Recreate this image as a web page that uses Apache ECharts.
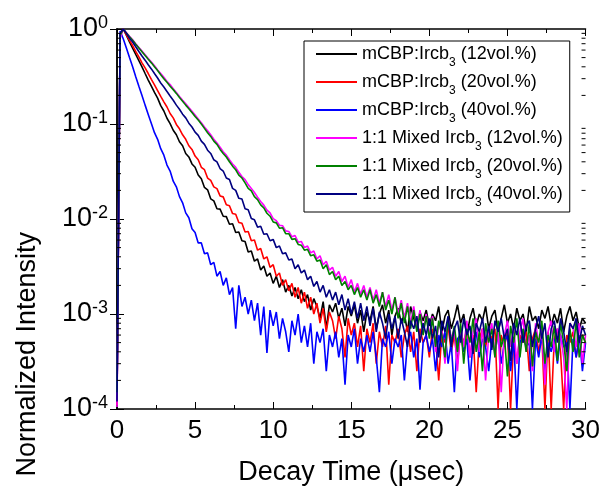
<!DOCTYPE html>
<html><head><meta charset="utf-8">
<script src="https://cdn.jsdelivr.net/npm/echarts@6/dist/echarts.min.js"></script>
<style>html,body{margin:0;padding:0;background:#fff}#c{width:603px;height:491px}</style>
</head><body><div id="c"></div><script>
// Decay time (µs)
const time = [
0,0.2,0.4,0.6,0.8,1,1.2,1.4,1.6,1.8,
2,2.2,2.4,2.6,2.8,3,3.2,3.4,3.6,3.8,
4,4.2,4.4,4.6,4.8,5,5.2,5.4,5.6,5.8,
6,6.2,6.4,6.6,6.8,7,7.2,7.4,7.6,7.8,
8,8.2,8.4,8.6,8.8,9,9.2,9.4,9.6,9.8,
10,10.2,10.4,10.6,10.8,11,11.2,11.4,11.6,11.8,
12,12.2,12.4,12.6,12.8,13,13.2,13.4,13.6,13.8,
14,14.2,14.4,14.6,14.8,15,15.2,15.4,15.6,15.8,
16,16.2,16.4,16.6,16.8,17,17.2,17.4,17.6,17.8,
18,18.2,18.4,18.6,18.8,19,19.2,19.4,19.6,19.8,
20,20.2,20.4,20.6,20.8,21,21.2,21.4,21.6,21.8,
22,22.2,22.4,22.6,22.8,23,23.2,23.4,23.6,23.8,
24,24.2,24.4,24.6,24.8,25,25.2,25.4,25.6,25.8,
26,26.2,26.4,26.6,26.8,27,27.2,27.4,27.6,27.8,
28,28.2,28.4,28.6,28.8,29,29.2,29.4,29.6,29.8,
30];

const mcbp12 = [
1.3e-4,0.85,1.0,0.86,0.73,0.63,0.54,0.465,0.40,0.34,
0.29,0.25,0.215,0.187,0.156,0.137,0.115,0.101,0.086,0.077,
0.065,0.059,0.049,0.045,0.038,0.035,0.029,0.0265,0.0215,0.0203,
0.0163,0.0155,0.0128,0.0127,0.0107,0.0106,8.8e-3,8.9e-3,7.2e-3,7.3e-3,
5.9e-3,5.8e-3,4.5e-3,4.6e-3,3.6e-3,3.8e-3,2.9e-3,3.2e-3,2.5e-3,2.7e-3,
2.1e-3,2.5e-3,1.9e-3,2.3e-3,1.7e-3,2.0e-3,1.55e-3,1.9e-3,1.45e-3,1.8e-3,
1.35e-3,1.6e-3,1.1e-3,1.45e-3,1.2e-3,9e-4,1.35e-3,7e-4,1.25e-3,1.05e-3,
1.3e-3,9e-4,1.15e-3,7.5e-4,1.2e-3,9.5e-4,1.25e-3,8e-4,1.1e-3,6.5e-4,
1.05e-3,8.5e-4,1.2e-3,7e-4,1.0e-3,1.25e-3,8e-4,1.1e-3,6e-4,9.5e-4,
1.15e-3,8e-4,1.0e-3,6.5e-4,1.2e-3,9e-4,7e-4,1.05e-3,8.5e-4,1.1e-3,
7.5e-4,1.0e-3,8.5e-4,1.2e-3,6.5e-4,9.5e-4,1.1e-3,7e-4,9e-4,1.25e-3,
8e-4,1.0e-3,6e-4,9e-4,1.15e-3,7.5e-4,1.0e-3,8.5e-4,1.2e-3,7e-4,
9.5e-4,1.1e-3,6.5e-4,9e-4,1.25e-3,8e-4,1.0e-3,7e-4,1.15e-3,8.5e-4,
1.0e-3,6.5e-4,1.2e-3,8.5e-4,9.5e-4,7e-4,1.1e-3,9e-4,1.2e-3,7.5e-4,
1.0e-3,8e-4,1.15e-3,6.5e-4,9.5e-4,1.2e-3,8.5e-4,1.05e-3,7e-4,9e-4,
8e-4];

const mcbp20 = [
1.1e-4,0.88,1.0,0.87,0.76,0.67,0.58,0.51,0.44,0.39,
0.34,0.295,0.258,0.224,0.195,0.171,0.151,0.129,0.116,0.099,
0.089,0.077,0.069,0.059,0.054,0.046,0.042,0.035,0.033,0.027,
0.0255,0.0218,0.0209,0.0175,0.0171,0.0141,0.0138,0.0114,0.0112,9.2e-3,
9.0e-3,7.3e-3,7.4e-3,5.9e-3,6.0e-3,4.7e-3,4.9e-3,3.8e-3,4.0e-3,3.1e-3,
3.3e-3,2.5e-3,2.7e-3,2.0e-3,2.3e-3,1.75e-3,2.1e-3,1.5e-3,1.9e-3,1.3e-3,
1.7e-3,1.15e-3,1.5e-3,1.0e-3,1.3e-3,8e-4,1.15e-3,6.5e-4,1.05e-3,8.5e-4,
5.5e-4,9.5e-4,7e-4,3.5e-4,9e-4,6e-4,8e-4,4.5e-4,7.5e-4,2.5e-4,
7e-4,5e-4,8e-4,3e-4,6.5e-4,4.5e-4,7.5e-4,1.8e-4,6e-4,5e-4,
7e-4,3.5e-4,6e-4,7.5e-4,4e-4,6.5e-4,2.5e-4,7e-4,5e-4,6e-4,
3.5e-4,7e-4,5.5e-4,2e-4,6.5e-4,5e-4,7.5e-4,4e-4,6e-4,3e-4,
6.5e-4,5e-4,7e-4,3.5e-4,6e-4,1.5e-4,5.5e-4,7e-4,4.5e-4,6.5e-4,
5.5e-4,7e-4,1e-4,6e-4,4.5e-4,6.5e-4,1e-4,5.5e-4,3e-4,6e-4,
5e-4,6.5e-4,2.5e-4,5.5e-4,7e-4,4e-4,6e-4,1e-4,6.5e-4,1e-4,
5.5e-4,7e-4,4e-4,1e-4,6e-4,5e-4,6.5e-4,3.5e-4,5.5e-4,6e-4,
5e-4];

const mcbp40 = [
1.2e-4,0.95,0.79,0.63,0.50,0.40,0.315,0.25,0.20,0.158,
0.126,0.101,0.081,0.069,0.055,0.047,0.037,0.032,0.025,0.0218,
0.0172,0.0148,0.0116,0.0103,7.9e-3,7.2e-3,5.6e-3,5.6e-3,4.3e-3,4.4e-3,
3.3e-3,3.5e-3,2.5e-3,2.8e-3,2.0e-3,2.4e-3,1.6e-3,1.9e-3,7e-4,2.0e-3,
1.2e-3,1.5e-3,1.0e-3,1.4e-3,8.5e-4,1.3e-3,6e-4,1.2e-3,3.9e-4,1.1e-3,
7.5e-4,1.05e-3,5.5e-4,9e-4,6.5e-4,4e-4,8.5e-4,6e-4,1.0e-3,5e-4,
7.5e-4,4.5e-4,8e-4,3e-4,6.5e-4,5e-4,7e-4,2.5e-4,6e-4,4.5e-4,
6.5e-4,3.5e-4,5.5e-4,1.8e-4,6e-4,4.5e-4,7e-4,3e-4,5.5e-4,4e-4,
6e-4,4e-4,6.5e-4,3.5e-4,1.5e-4,5.5e-4,4.5e-4,6.5e-4,3e-4,5.5e-4,
4.5e-4,6e-4,2e-4,5e-4,6.5e-4,3.5e-4,5.5e-4,1.6e-4,5e-4,6e-4,
4e-4,5.5e-4,2.5e-4,6e-4,4.5e-4,6.5e-4,3e-4,5e-4,1.5e-4,5.5e-4,
6e-4,4e-4,5.5e-4,2e-4,5e-4,6.5e-4,3.5e-4,5.5e-4,4.5e-4,2.5e-4,
5.5e-4,4e-4,6e-4,3e-4,5e-4,6e-4,2.5e-4,5.5e-4,1e-4,5e-4,
6e-4,4.5e-4,5e-4,1e-4,5.5e-4,3.5e-4,6e-4,2.5e-4,5e-4,4e-4,
5.5e-4,3e-4,6e-4,4.5e-4,5e-4,1e-4,5.5e-4,3.5e-4,6e-4,2.5e-4,
5e-4];

const mixed12 = [
1.05e-4,0.8,1.0,0.92,0.84,0.77,0.70,0.64,0.585,0.535,
0.49,0.45,0.41,0.37,0.34,0.31,0.28,0.26,0.235,0.215,
0.195,0.178,0.163,0.149,0.136,0.124,0.113,0.103,0.093,0.085,
0.077,0.069,0.063,0.057,0.051,0.047,0.042,0.038,0.035,0.031,
0.028,0.026,0.023,0.021,0.019,0.017,0.0153,0.014,0.0124,0.0116,
0.0101,9.6e-3,8.6e-3,8.5e-3,7.5e-3,7.4e-3,6.5e-3,6.7e-3,5.7e-3,5.8e-3,
5.0e-3,5.2e-3,4.4e-3,4.6e-3,3.8e-3,4.1e-3,3.3e-3,3.6e-3,2.9e-3,3.1e-3,
2.5e-3,2.8e-3,2.2e-3,2.5e-3,1.9e-3,2.3e-3,1.7e-3,2.1e-3,1.6e-3,2.0e-3,
1.5e-3,1.9e-3,1.4e-3,1.8e-3,1.3e-3,1.7e-3,1.2e-3,1.6e-3,1.1e-3,1.5e-3,
1.0e-3,1.4e-3,9e-4,1.3e-3,8e-4,1.2e-3,7e-4,1.1e-3,6.5e-4,1.0e-3,
6e-4,9.5e-4,4e-4,8e-4,6.5e-4,3e-4,9e-4,5.5e-4,7e-4,2.5e-4,
7.5e-4,4.5e-4,8.5e-4,3.5e-4,6.5e-4,9e-4,4e-4,7e-4,2e-4,6e-4,
8e-4,3.5e-4,7e-4,1.5e-4,6e-4,8.5e-4,4.5e-4,7.5e-4,3e-4,6.5e-4,
9e-4,4e-4,6e-4,2.5e-4,8e-4,5e-4,7e-4,1.8e-4,6.5e-4,8.5e-4,
4e-4,7e-4,6e-4,3.5e-4,1e-4,8e-4,7e-4,4.5e-4,8e-4,3e-4,
6e-4];

const mixed20 = [
1.5e-4,0.85,1.0,0.91,0.83,0.76,0.69,0.63,0.575,0.525,
0.48,0.44,0.40,0.365,0.33,0.30,0.275,0.25,0.23,0.21,
0.19,0.174,0.158,0.145,0.132,0.12,0.11,0.10,0.090,0.081,
0.074,0.066,0.061,0.054,0.049,0.045,0.040,0.036,0.033,0.029,
0.027,0.024,0.021,0.0198,0.0172,0.016,0.0141,0.0131,0.0115,0.0107,
9.3e-3,9.1e-3,8.0e-3,8.1e-3,7.0e-3,7.0e-3,6.1e-3,6.2e-3,5.4e-3,5.3e-3,
4.7e-3,4.8e-3,4.1e-3,4.2e-3,3.6e-3,3.7e-3,3.0e-3,3.3e-3,2.6e-3,2.8e-3,
2.3e-3,2.5e-3,2.0e-3,2.2e-3,1.8e-3,2.0e-3,1.6e-3,1.9e-3,1.5e-3,1.8e-3,
1.4e-3,1.8e-3,1.3e-3,1.6e-3,1.2e-3,1.7e-3,1.1e-3,1.4e-3,1.0e-3,1.5e-3,
9e-4,1.3e-3,8e-4,1.2e-3,7e-4,1.1e-3,6.5e-4,1.0e-3,6e-4,9.5e-4,
5.5e-4,9e-4,4.5e-4,8.5e-4,6e-4,3.5e-4,9e-4,5e-4,7.5e-4,4e-4,
8e-4,3e-4,7e-4,5e-4,9e-4,4e-4,6.5e-4,2.5e-4,8e-4,5e-4,
7e-4,3.5e-4,8.5e-4,4.5e-4,6e-4,2.2e-4,7.5e-4,5e-4,9e-4,3.5e-4,
7e-4,4e-4,8e-4,2.8e-4,6.5e-4,5e-4,8.5e-4,3e-4,6e-4,4.5e-4,
7.5e-4,3.2e-4,8e-4,5e-4,2.5e-4,7e-4,4e-4,8.5e-4,3.5e-4,6e-4,
5e-4];

const mixed40 = [
1.2e-4,0.9,1.0,0.90,0.80,0.73,0.65,0.58,0.52,0.47,
0.42,0.38,0.34,0.305,0.27,0.245,0.22,0.197,0.178,0.158,
0.143,0.127,0.116,0.102,0.093,0.082,0.076,0.066,0.061,0.053,
0.049,0.042,0.040,0.034,0.032,0.027,0.026,0.021,0.020,0.0165,
0.0162,0.0128,0.0125,0.0101,0.0098,8.2e-3,8.4e-3,6.9e-3,7.0e-3,5.9e-3,
6.1e-3,5.0e-3,5.2e-3,4.3e-3,4.4e-3,3.7e-3,3.8e-3,3.0e-3,3.3e-3,2.7e-3,
2.9e-3,2.3e-3,2.5e-3,1.95e-3,2.2e-3,1.7e-3,2.0e-3,1.5e-3,1.8e-3,1.4e-3,
1.7e-3,1.25e-3,1.6e-3,1.1e-3,1.45e-3,1.0e-3,1.35e-3,9e-4,1.3e-3,8.5e-4,
1.2e-3,7.5e-4,1.15e-3,6.5e-4,1.05e-3,8e-4,5.5e-4,1.0e-3,7e-4,9.5e-4,
5.5e-4,9e-4,6.5e-4,4.5e-4,8.5e-4,7e-4,9.5e-4,5e-4,8e-4,6e-4,
9e-4,5.5e-4,7.5e-4,3.5e-4,8.5e-4,6.5e-4,9.5e-4,4.5e-4,7e-4,8.5e-4,
5e-4,9e-4,6e-4,7.5e-4,3.8e-4,8e-4,6.5e-4,9e-4,5e-4,7.5e-4,
4.2e-4,8.5e-4,6.5e-4,9e-4,5.5e-4,7e-4,3.2e-4,8e-4,6e-4,9e-4,
5e-4,7.5e-4,8.5e-4,4.5e-4,7e-4,9.5e-4,5.5e-4,8e-4,3.5e-4,7e-4,
8.5e-4,5e-4,9e-4,6.5e-4,4e-4,8e-4,7e-4,9e-4,5e-4,7.5e-4,
6e-4];

const seriesPre = ['mCBP:Ircb','mCBP:Ircb','mCBP:Ircb','1:1 Mixed Ircb','1:1 Mixed Ircb','1:1 Mixed Ircb'];
const seriesSub = ['3','3','3','3','3','3'];
const seriesPost = [' (12vol.%)',' (20vol.%)',' (40vol.%)',' (12vol.%)',' (20vol.%)',' (40vol.%)'];
const seriesColors = ['#000000','#ff0000','#0000ff','#ff00ff','#008000','#000080'];
const seriesValues = [mcbp12, mcbp20, mcbp40, mixed12, mixed20, mixed40];
const xTicks = [0,5,10,15,20,25,30];
const yExponents = ['-4','-3','-2','-1','0'];
const yMinorTicks = [2e-4,3e-4,4e-4,5e-4,6e-4,7e-4,8e-4,9e-4,
  2e-3,3e-3,4e-3,5e-3,6e-3,7e-3,8e-3,9e-3,
  2e-2,3e-2,4e-2,5e-2,6e-2,7e-2,8e-2,9e-2,
  0.2,0.3,0.4,0.5,0.6,0.7,0.8,0.9];

const FONT = 'Liberation Sans, Arial, sans-serif';
const names = seriesPre.map((p,i)=>p+seriesSub[i]+seriesPost[i]);

const lineSeries = seriesValues.map((vals,i)=>({
  name: names[i], type:'line', xAxisIndex:0, yAxisIndex:0,
  data: time.map((t,j)=>[t, vals[j]]),
  showSymbol:false, symbol:'none', animation:false,
  lineStyle:{color:seriesColors[i], width:1.6},
  itemStyle:{color:seriesColors[i]}, clip:true
}));

const minorSeries = {
  type:'custom', xAxisIndex:0, yAxisIndex:0, silent:true, animation:false, clip:false, z:10,
  data: yMinorTicks.map(v=>[0,v]),
  renderItem: function(params, api){
    const y = api.coord([0, api.value(1)])[1];
    const r = params.coordSys;
    const st = {stroke:'#000', lineWidth:1};
    return {type:'group', children:[
      {type:'line', shape:{x1:r.x, y1:y, x2:r.x+4, y2:y}, style:st},
      {type:'line', shape:{x1:r.x+r.width-4, y1:y, x2:r.x+r.width, y2:y}, style:st}
    ]};
  }
};

const axisCommonX = {
  type:'value', min:0, max:30, interval:5,
  axisLine:{show:true, lineStyle:{color:'#000', width:1.5}},
  axisTick:{show:true, inside:true, length:7, lineStyle:{color:'#000', width:1}},
  minorTick:{show:true, splitNumber:2, length:4, lineStyle:{color:'#000', width:1}},
  splitLine:{show:false}, minorSplitLine:{show:false}
};
const axisCommonY = {
  type:'log', logBase:10, min:1e-4, max:1,
  axisLine:{show:true, lineStyle:{color:'#000', width:1.5}},
  axisTick:{show:true, inside:true, length:7, lineStyle:{color:'#000', width:1}},
  minorTick:{show:false}, splitLine:{show:false}
};

const chart = echarts.init(document.getElementById('c'), null, {renderer:'canvas'});
chart.setOption({
  backgroundColor:'#fff',
  animation:false,
  textStyle:{fontFamily:FONT},
  grid:{left:117, top:29, right:17, bottom:80, containLabel:false},
  xAxis:[
    Object.assign({}, axisCommonX, {position:'bottom',
      axisLabel:{show:true, color:'#000', fontSize:26, fontFamily:FONT, margin:9,
        formatter: v => xTicks.includes(v) ? String(v) : ''},
      name:'Decay Time (\u03bcsec)', nameLocation:'middle', nameGap:50,
      nameTextStyle:{color:'#000', fontSize:27, fontFamily:FONT}}),
    Object.assign({}, axisCommonX, {position:'top', axisLabel:{show:false}})
  ],
  yAxis:[
    Object.assign({}, axisCommonY, {position:'left',
      axisLabel:{show:true, margin:9, color:'#000', fontFamily:FONT,
        formatter: v => {
          const e = yExponents[Math.round(Math.log10(v))+4];
          return '{b|10}{s|' + e + '}';
        },
        rich:{
          b:{fontSize:27, fontFamily:FONT, color:'#000', lineHeight:30},
          s:{fontSize:18, fontFamily:FONT, color:'#000', verticalAlign:'top', lineHeight:18}
        }
      }}),
    Object.assign({}, axisCommonY, {position:'right', axisLabel:{show:false}})
  ],
  legend:{
    data:names, orient:'vertical', left:304, top:41,
    padding:[4,7,3,12], itemGap:4, itemWidth:41, itemHeight:2, icon:'rect',
    borderColor:'#000', borderWidth:1, backgroundColor:'#fff', borderRadius:0,
    selectedMode:false,
    formatter: function(name){
      const i = names.indexOf(name);
      return '{t|' + seriesPre[i] + '}{s|' + seriesSub[i] + '}{t|' + seriesPost[i] + '}';
    },
    textStyle:{color:'#000', fontFamily:FONT,
      rich:{
        t:{fontSize:18, fontFamily:FONT, color:'#000', lineHeight:20},
        s:{fontSize:12, fontFamily:FONT, color:'#000', verticalAlign:'bottom', lineHeight:14, padding:[0,0,-5,0]}
      }}
  },
  graphic:[{
    type:'text', left:14, top:232, rotation:Math.PI/2,
    style:{text:'Normalized Intensity', fontSize:27, fontFamily:FONT, fill:'#000',
      textAlign:'center', textVerticalAlign:'middle'}
  }],
  series: lineSeries.concat([minorSeries])
});
</script></body></html>
